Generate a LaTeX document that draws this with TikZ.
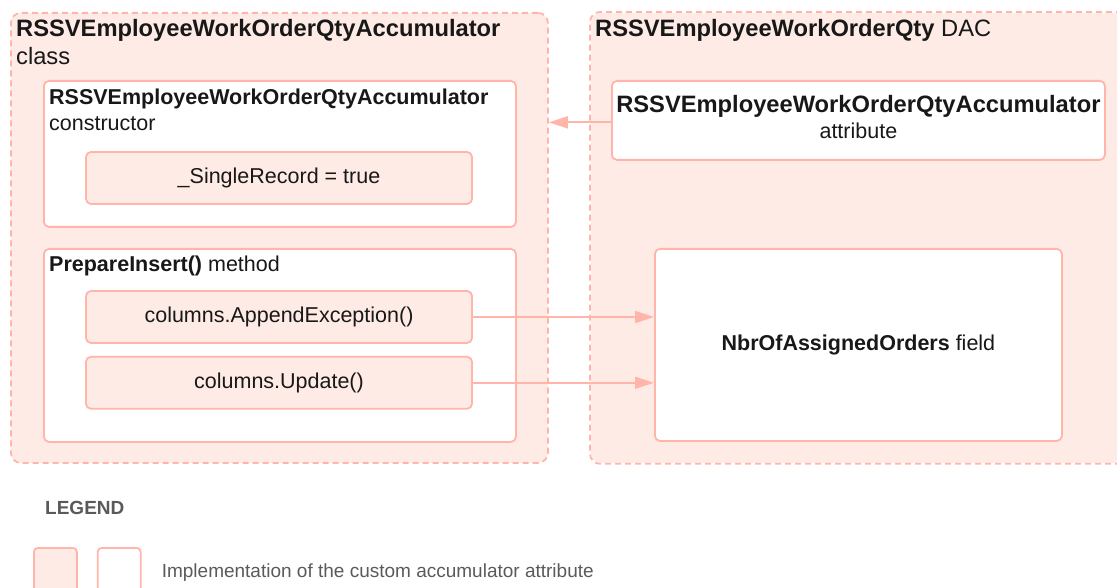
\documentclass[tikz,border=0pt]{standalone}
\usepackage{fontspec}
\setmainfont{Liberation Sans}
\usepackage{tikz}
\usetikzlibrary{arrows.meta,positioning,calc}
\definecolor{accline}{RGB}{255,181,170}
\definecolor{accfill}{RGB}{255,235,230}
\definecolor{inktext}{RGB}{24,24,24}
\definecolor{legendgray}{RGB}{90,90,90}
\newcommand{\titlefont}{\fontsize{23.7}{28}\selectfont}
\newcommand{\bodyfont}{\fontsize{21.5}{26}\selectfont}
\newcommand{\legendfont}{\fontsize{19}{22}\selectfont}

\begin{document}
\begin{tikzpicture}[
        x=1pt, y=-1pt,
        group/.style={draw=accline, fill=accfill, line width=1.8pt, dash pattern=on 6pt off 4pt, rounded corners=10pt, anchor=north west, inner sep=0pt},
        panel/.style={draw=accline, fill=white, line width=1.8pt, rounded corners=5pt, anchor=north west, inner sep=0pt, align=center, font=\bodyfont, text=inktext},
        implbox/.style={draw=accline, fill=accfill, line width=1.8pt, rounded corners=5pt, minimum width=386pt, minimum height=52pt, inner sep=0pt, font=\bodyfont, text=inktext},
        keybox/.style={draw=accline, line width=1.8pt, rounded corners=4pt, anchor=north west, minimum width=43pt, minimum height=50pt, inner sep=0pt},
        head/.style={anchor=north west, align=left, inner sep=0pt, text=inktext},
        arr/.style={-{Triangle[length=19pt,width=12pt]}, draw=accline, line width=1.8pt}
    ]
    \useasboundingbox (0,0) rectangle (1117,588);

    % accumulator class and DAC
    \node[group, minimum width=537pt, minimum height=450pt] (classbox) at (10,12) {};
    \node[group, draw=none, minimum width=540pt, minimum height=450pt] (dacbox) at (590,12) {};
    \draw[group, fill=none] (dacbox.north east) -- (dacbox.north west) -- (dacbox.south west) -- (dacbox.south east);
    \node[head, font=\titlefont] (classtitle) at (16,19) {\textbf{RSSVEmployeeWorkOrderQtyAccumulator}\\class};
    \node[head, font=\titlefont] (dactitle) at (595,19) {\textbf{RSSVEmployeeWorkOrderQty} DAC};

    % constructor
    \node[panel, minimum width=472pt, minimum height=146pt] (ctor) at (43,80) {};
    \node[head, font=\bodyfont] (ctortitle) at (49,89) {\textbf{RSSVEmployeeWorkOrderQtyAccumulator}\\constructor};
    \node[implbox] (single) at (279,178) {\_SingleRecord = true};

    % PrepareInsert()
    \node[panel, minimum width=472pt, minimum height=193pt] (prep) at (43,248) {};
    \node[head, font=\bodyfont] (preptitle) at (49,256) {\textbf{PrepareInsert()} method};
    \node[implbox] (append) at (279,317) {columns.AppendException()};
    \node[implbox, below=12pt of append] (update) {columns.Update()};

    % attribute and field
    \node[panel, minimum width=493pt, minimum height=79pt, text depth=6pt] (attr) at (611,80) {{\titlefont\bfseries RSSVEmployeeWorkOrderQtyAccumulator}\\attribute};
    \node[panel, minimum width=407pt, minimum height=192pt] (field) at (654,248) {\textbf{NbrOfAssignedOrders} field};

    \draw[arr] ($(attr.west)+(0,2)$) -- ($(attr.west -| classbox.east)+(0,2)$);
    \draw[arr] (append.east) -- (append.east -| field.west);
    \draw[arr] (update.east) -- (update.east -| field.west);

    % legend
    \node[anchor=west, inner sep=0pt, font=\legendfont\bfseries, text=legendgray] (legendtitle) at (45,508) {LEGEND};
    \node[keybox, fill=accfill] (keyfill) at (33,547) {};
    \node[keybox, fill=white, right=19pt of keyfill] (keywhite) {};
    \node[anchor=west, inner sep=0pt, font=\legendfont, text=legendgray, right=20pt of keywhite] (legendtext) {Implementation of the custom accumulator attribute};
\end{tikzpicture}
\end{document}
